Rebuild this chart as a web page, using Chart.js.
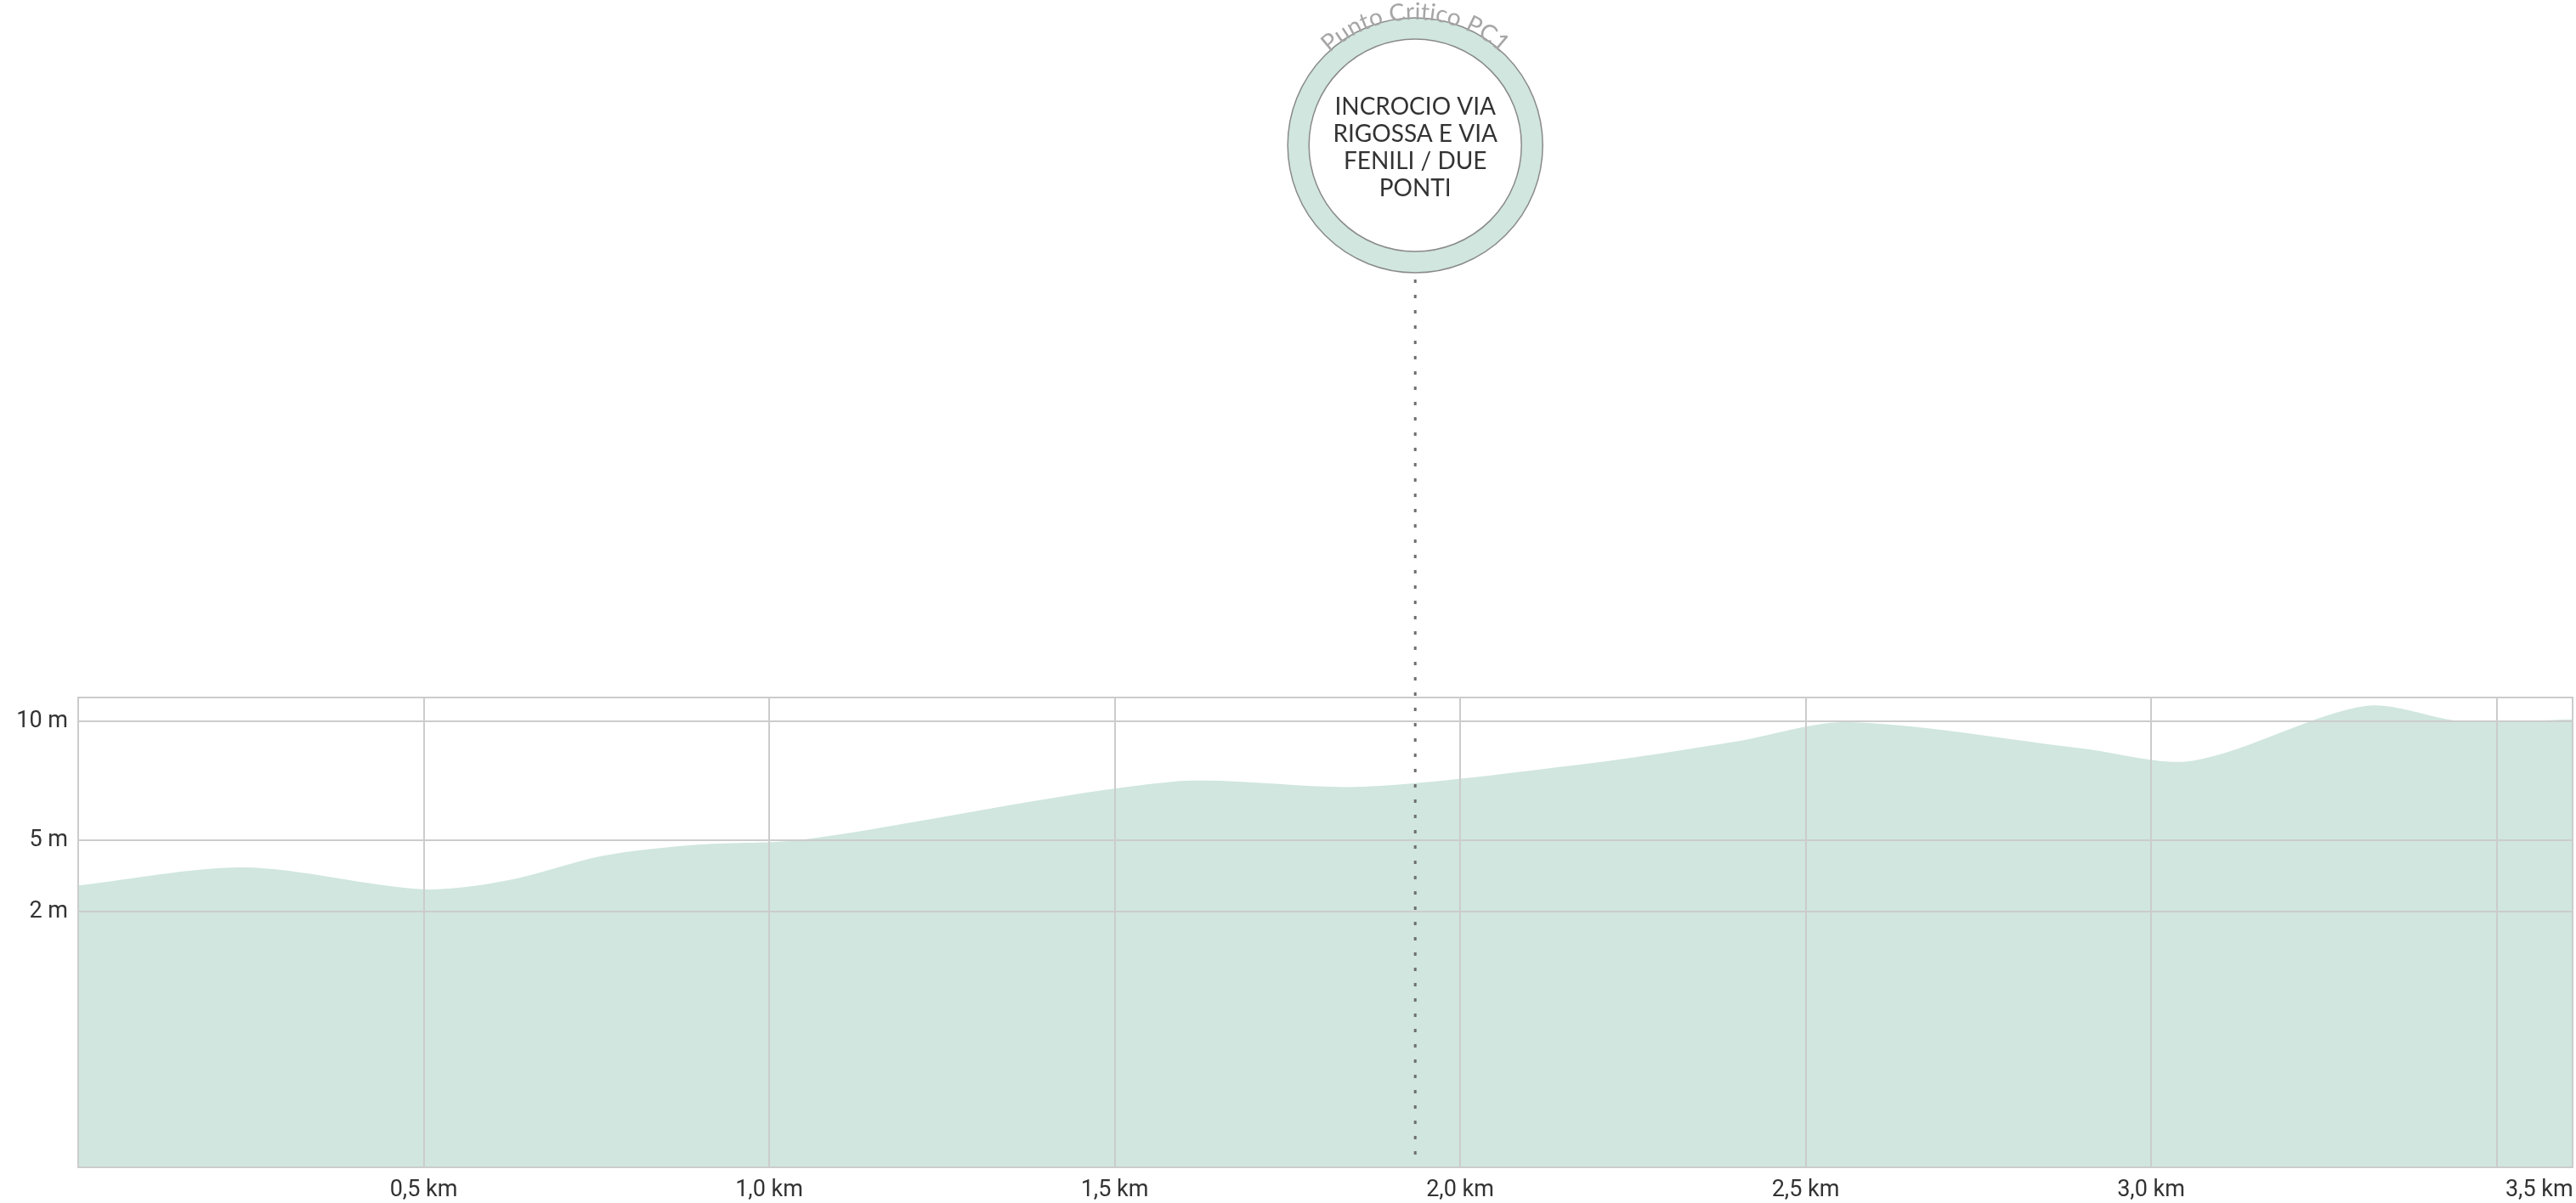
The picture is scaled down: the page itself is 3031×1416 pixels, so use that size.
<!DOCTYPE html>
<html>
<head>
<meta charset="utf-8">
<script src="https://cdn.jsdelivr.net/npm/chart.js@4.4.0/dist/chart.umd.min.js"></script>
<style>
html, body { margin: 0; padding: 0; background: #fff; }
#wrap { width: 3031px; height: 1416px; position: relative; }
</style>
</head>
<body>
<div id="wrap"><canvas id="profile"></canvas></div>
<script>
// elevation profile (km / m)
var distances = [0, 0.24, 0.5, 0.62, 0.76, 0.9, 1.05, 1.58, 1.86, 2.19, 2.4, 2.56, 2.9, 3.06, 3.31, 3.45, 3.61];
var elevations = [3.1, 3.86, 2.94, 3.3, 4.35, 4.82, 5.03, 7.45, 7.25, 8.24, 9.15, 9.96, 8.86, 8.34, 10.64, 10.0, 10.08];
var xTicks = [0.5, 1, 1.5, 2, 2.5, 3, 3.5];
var yTicks = [2, 5, 10];

var pointName = 'Punto Critico PC1';
var pointLines = ['INCROCIO VIA', 'RIGOSSA E VIA', 'FENILI / DUE', 'PONTI'];
var pointKm = 1.935;

var criticalPoint = {
    id: 'criticalPoint',
    afterDatasetsDraw: function (chart) {
        var ctx = chart.ctx;
        var area = chart.chartArea;
        var x = chart.scales.x.getPixelForValue(pointKm);
        var cy = 171, rOut = 150, rIn = 125;

        ctx.save();
        // dotted drop line
        ctx.setLineDash([4, 14]);
        ctx.lineWidth = 3;
        ctx.strokeStyle = '#6f6f6f';
        ctx.beginPath();
        ctx.moveTo(x, cy + rOut + 8);
        ctx.lineTo(x, area.bottom);
        ctx.stroke();
        ctx.setLineDash([]);

        // ring
        ctx.beginPath();
        ctx.arc(x, cy, rOut, 0, Math.PI * 2);
        ctx.fillStyle = 'rgb(208, 230, 223)';
        ctx.fill();
        ctx.lineWidth = 1.5;
        ctx.strokeStyle = '#8a8a8a';
        ctx.stroke();
        ctx.beginPath();
        ctx.arc(x, cy, rIn, 0, Math.PI * 2);
        ctx.fillStyle = '#ffffff';
        ctx.fill();
        ctx.stroke();

        // label inside
        ctx.fillStyle = '#333333';
        ctx.font = '28px Lato';
        ctx.textAlign = 'center';
        ctx.textBaseline = 'middle';
        var lh = 32;
        var y0 = cy + 3 - (pointLines.length - 1) * lh / 2;
        for (var i = 0; i < pointLines.length; i++) {
            ctx.fillText(pointLines[i], x, y0 + i * lh);
        }

        // curved title
        ctx.font = '28px Lato';
        ctx.fillStyle = '#a6a6a6';
        ctx.textBaseline = 'alphabetic';
        var r = 148;
        var total = ctx.measureText(pointName).width;
        var ang = -Math.PI / 2 - total / r / 2;
        for (var j = 0; j < pointName.length; j++) {
            var ch = pointName[j];
            var w = ctx.measureText(ch).width;
            var a = ang + w / 2 / r;
            ctx.save();
            ctx.translate(x + r * Math.cos(a), cy + r * Math.sin(a));
            ctx.rotate(a + Math.PI / 2);
            ctx.fillText(ch, 0, 0);
            ctx.restore();
            ang += w / r;
        }
        ctx.restore();
    },
    afterDraw: function (chart) {
        // frame round the plot area
        var ctx = chart.ctx;
        var area = chart.chartArea;
        ctx.save();
        ctx.strokeStyle = '#cccccc';
        ctx.lineWidth = 2;
        ctx.strokeRect(area.left, area.top, area.right - area.left, area.bottom - area.top);
        ctx.restore();
    }
};

var points = distances.map(function (d, i) { return { x: d, y: elevations[i] }; });

var ctx = document.getElementById('profile').getContext('2d');
var chart = new Chart(ctx, {
    type: 'line',
    data: {
        datasets: [{
            data: points,
            fill: 'start',
            backgroundColor: 'rgb(208, 230, 223)',
            borderWidth: 0,
            borderColor: 'rgba(0,0,0,0)',
            pointRadius: 0,
            tension: 0.3
        }]
    },
    plugins: [criticalPoint],
    options: {
        responsive: true,
        maintainAspectRatio: false,
        animation: false,
        layout: { padding: { top: 821, right: 4, left: 0, bottom: 0 } },
        plugins: { legend: { display: false }, tooltip: { enabled: false } },
        scales: {
            x: {
                type: 'linear',
                min: 0,
                max: 3.61,
                afterBuildTicks: function (scale) {
                    scale.ticks = xTicks.map(function (v) { return { value: v }; });
                },
                afterFit: function (scale) {
                    scale.height = 42;
                    scale.paddingLeft = 0;
                    scale.paddingRight = 0;
                },
                grid: { color: '#cccccc', lineWidth: 2, drawTicks: false, z: 1 },
                border: { display: false },
                ticks: {
                    padding: 11,
                    color: '#333333',
                    font: { family: 'Roboto', size: 27 },
                    maxRotation: 0,
                    autoSkip: false,
                    callback: function (v) {
                        var s = v.toFixed(1).replace('.', ',') + ' km';
                        // last label sits right of its tick
                        if (v === xTicks[xTicks.length - 1]) s = '               ' + s;
                        return s;
                    }
                }
            },
            y: {
                type: 'linear',
                min: -8.75,
                max: 11,
                afterBuildTicks: function (scale) {
                    scale.ticks = yTicks.map(function (v) { return { value: v }; });
                },
                afterFit: function (scale) { scale.width = 92; },
                grid: { color: '#cccccc', lineWidth: 2, drawTicks: false, z: 1 },
                border: { display: false },
                ticks: {
                    padding: 12,
                    color: '#333333',
                    font: { family: 'Roboto', size: 27 },
                    callback: function (v) { return v + ' m'; }
                }
            }
        }
    }
});
</script>
</body>
</html>
